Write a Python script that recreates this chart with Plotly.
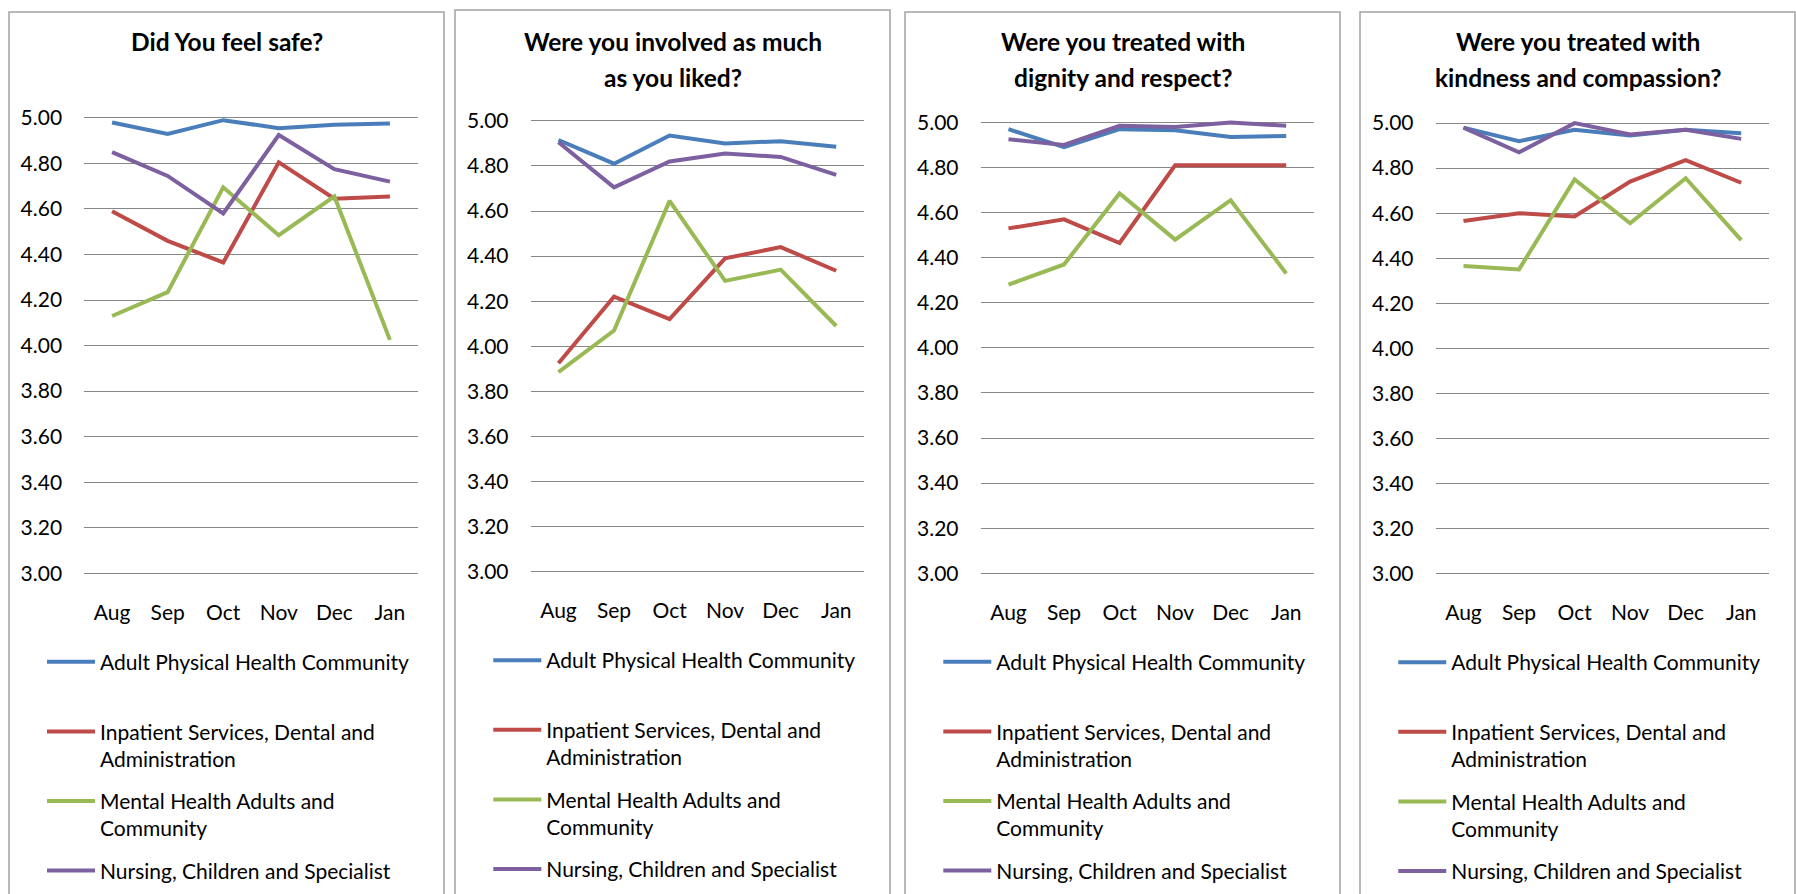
import plotly.graph_objects as go

W, H = 1796, 894

months = ["Aug", "Sep", "Oct", "Nov", "Dec", "Jan"]

series_names = [
    "Adult Physical Health Community<br> ",
    "Inpatient Services, Dental and<br>Administration",
    "Mental Health Adults and<br>Community",
    "Nursing, Children and Specialist",
]

titles = [
    ["Did You feel safe?"],
    ["Were you involved as much", "as you liked?"],
    ["Were you treated with", "dignity and respect?"],
    ["Were you treated with", "kindness and compassion?"],
]

# Did you feel safe?
safe_adult = [4.98, 4.93, 4.99, 4.955, 4.97, 4.975]
safe_inpatient = [4.59, 4.46, 4.365, 4.805, 4.645, 4.655]
safe_mental = [4.13, 4.235, 4.695, 4.485, 4.655, 4.025]
safe_nursing = [4.85, 4.745, 4.58, 4.925, 4.775, 4.72]

# Were you involved as much as you liked?
involved_adult = [4.915, 4.81, 4.935, 4.90, 4.91, 4.885]
involved_inpatient = [3.925, 4.22, 4.12, 4.39, 4.44, 4.335]
involved_mental = [3.885, 4.07, 4.645, 4.29, 4.34, 4.09]
involved_nursing = [4.905, 4.705, 4.82, 4.855, 4.84, 4.76]

# Were you treated with dignity and respect?
dignity_adult = [4.97, 4.89, 4.97, 4.965, 4.935, 4.94]
dignity_inpatient = [4.53, 4.57, 4.465, 4.81, 4.81, 4.81]
dignity_mental = [4.28, 4.37, 4.685, 4.48, 4.655, 4.33]
dignity_nursing = [4.925, 4.90, 4.985, 4.98, 5.0, 4.985]

# Were you treated with kindness and compassion?
kindness_adult = [4.98, 4.92, 4.97, 4.945, 4.97, 4.955]
kindness_inpatient = [4.565, 4.60, 4.585, 4.74, 4.835, 4.735]
kindness_mental = [4.365, 4.35, 4.75, 4.555, 4.755, 4.48]
kindness_nursing = [4.98, 4.87, 5.0, 4.95, 4.97, 4.93]

panel_values = [
    [safe_adult, safe_inpatient, safe_mental, safe_nursing],
    [involved_adult, involved_inpatient, involved_mental, involved_nursing],
    [dignity_adult, dignity_inpatient, dignity_mental, dignity_nursing],
    [kindness_adult, kindness_inpatient, kindness_mental, kindness_nursing],
]

colors = ["#4A7EBB", "#BE4B48", "#98B954", "#7D60A0"]
FONT = "Lato"
GRID = "#878787"
FRAME = "#a3a3a3"

# panel geometry in pixels
frames = [(9, 444, 7), (455, 890, 5), (905, 1340, 7), (1360, 1795, 7)]
plot_boxes = [(84.3, 417.7, 114.7, 577.3), (530.7, 864, 117.7, 575.7),
              (980.7, 1314, 119.3, 577.3), (1435.7, 1769, 120, 577.3)]
legend_anchor = [(48, 657.3), (494.3, 655.7), (944.3, 657.3), (1399.3, 657.7)]
title_rows = [37.0, 73.7]

Y_LO, Y_HI = 2.99, 5.04


def px(x):
    return x / W


def py(y):
    return 1 - y / H


fig = go.Figure()
layout = dict(
    width=W, height=H,
    margin=dict(l=0, r=0, t=0, b=0),
    paper_bgcolor="white", plot_bgcolor="white",
    font=dict(family=FONT, color="black"),
    showlegend=True,
    shapes=[], annotations=[],
)

for i in range(4):
    n = i + 1
    sfx = "" if n == 1 else str(n)
    x0, x1, y5, y3 = plot_boxes[i]
    k = (y3 - y5) / 2.0
    top = y5 - (Y_HI - 5.0) * k
    bottom = y3 + (3.0 - Y_LO) * k

    layout["xaxis" + sfx] = dict(
        domain=[px(x0), px(x1)], anchor="y" + sfx, type="category",
        range=[-0.5, len(months) - 0.5],
        showgrid=False, showline=False, zeroline=False,
        ticks="outside", ticklen=18, tickcolor="rgba(0,0,0,0)",
        tickfont=dict(family=FONT, size=21, color="black"),
        fixedrange=True,
    )
    layout["yaxis" + sfx] = dict(
        domain=[py(bottom), py(top)], anchor="x" + sfx,
        range=[Y_LO, Y_HI], tick0=3, dtick=0.2, tickformat=".2f",
        showgrid=True, gridcolor=GRID, gridwidth=1.3,
        showline=False, zeroline=False,
        ticks="outside", ticklen=17, tickcolor="rgba(0,0,0,0)",
        tickfont=dict(family=FONT, size=21, color="black"),
        fixedrange=True,
    )

    lname = "legend" + sfx
    lx, ly = legend_anchor[i]
    layout[lname] = dict(
        x=px(lx - 6), y=py(ly - 10.5), xanchor="left", yanchor="top",
        xref="paper", yref="paper",
        bgcolor="rgba(0,0,0,0)", borderwidth=0,
        font=dict(family=FONT, size=21, color="black"),
        valign="top", itemwidth=48, tracegroupgap=12,
        traceorder="grouped", orientation="v",
    )

    for j in range(4):
        fig.add_trace(go.Scatter(
            x=months, y=panel_values[i][j], mode="lines",
            name=series_names[j],
            line=dict(color=colors[j], width=4),
            xaxis="x" + sfx, yaxis="y" + sfx,
            legend=lname, legendgroup=f"p{n}s{j}",
            hoverinfo="skip",
        ))

    fx0, fx1, ftop = frames[i]
    layout["shapes"].append(dict(
        type="rect", xref="paper", yref="paper",
        x0=px(fx0), x1=px(fx1), y0=py(H + 30), y1=py(ftop),
        line=dict(color=FRAME, width=1.5), fillcolor="rgba(0,0,0,0)",
        layer="below",
    ))

    cx = (fx0 + fx1) / 2
    for r, line_text in enumerate(titles[i]):
        layout["annotations"].append(dict(
            text=line_text, xref="paper", yref="paper",
            x=px(cx), y=py(title_rows[r]), xanchor="center", yanchor="middle",
            showarrow=False,
            font=dict(family=FONT, size=24.5, color="black", weight=700),
        ))

fig.update_layout(**layout)
fig.write_html(
    "out.html",
    config={"displayModeBar": False},
    post_script="document.body.style.margin='0';document.body.style.overflow='hidden';",
)
